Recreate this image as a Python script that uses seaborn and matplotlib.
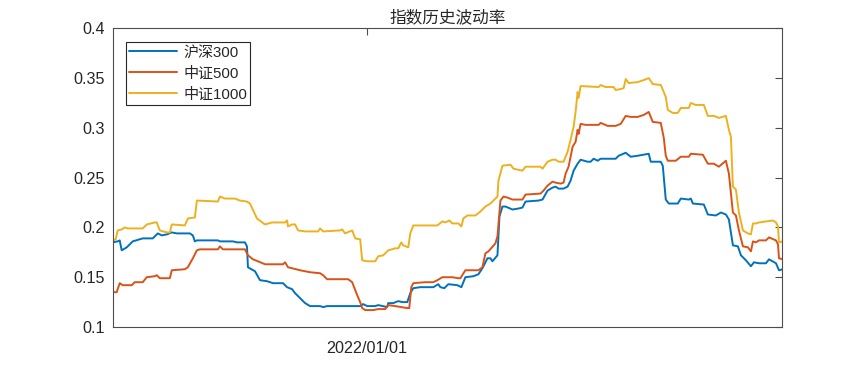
import numpy as np
import pandas as pd
import matplotlib
matplotlib.use("Agg")
import matplotlib.pyplot as plt
import seaborn as sns

# ---------------- data ----------------
START_DATE = "2021-04-22"
END_DATE = "2023-02-19"
TITLE = "指数历史波动率"
series_names = ["沪深300", "中证500", "中证1000"]
series_colors = ["#0072BD", "#D95319", "#EDB120"]
y_ticks = [0.1, 0.15, 0.2, 0.25, 0.3, 0.35, 0.4]
y_tick_labels = ["0.1", "0.15", "0.2", "0.25", "0.3", "0.35", "0.4"]
x_tick_dates = ["2022-01-01"]
x_tick_labels = ["2022/01/01"]

# days since START_DATE
hs300_days = [0, 5, 7, 9, 14, 20, 30, 40, 45, 49,
              54, 59, 64, 77, 80, 82, 84, 105, 107, 120,
              124, 132, 134, 135, 142, 147, 154, 160, 170, 174,
              179, 182, 187, 192, 197, 207, 210, 214, 240, 247,
              250, 254, 262, 265, 274, 275, 280, 285, 289, 294,
              297, 300, 307, 320, 325, 327, 331, 335, 344, 348,
              352, 360, 365, 369, 374, 377, 379, 384, 386, 389,
              392, 399, 405, 409, 412, 425, 429, 434, 439, 442,
              445, 450, 454, 457, 460, 464, 467, 474, 477, 480,
              484, 487, 502, 505, 512, 517, 524, 535, 537, 547,
              549, 552, 555, 564, 567, 575, 577, 579, 590, 594,
              602, 607, 612, 615, 619, 624, 627, 632, 637, 640,
              645, 652, 655, 662, 665, 669]
hs300_vol = [0.185, 0.186, 0.187, 0.177, 0.180, 0.186, 0.189, 0.189, 0.194, 0.192,
             0.193, 0.195, 0.194, 0.194, 0.192, 0.186, 0.187, 0.187, 0.186, 0.186,
             0.185, 0.185, 0.181, 0.160, 0.156, 0.147, 0.146, 0.144, 0.144, 0.140,
             0.138, 0.134, 0.129, 0.124, 0.121, 0.121, 0.120, 0.121, 0.121, 0.121,
             0.123, 0.121, 0.121, 0.122, 0.120, 0.124, 0.124, 0.126, 0.125, 0.125,
             0.134, 0.139, 0.140, 0.140, 0.143, 0.140, 0.139, 0.143, 0.142, 0.140,
             0.150, 0.151, 0.153, 0.159, 0.169, 0.169, 0.166, 0.172, 0.211, 0.221,
             0.221, 0.218, 0.219, 0.220, 0.226, 0.227, 0.228, 0.237, 0.240, 0.241,
             0.239, 0.239, 0.241, 0.247, 0.257, 0.264, 0.268, 0.266, 0.266, 0.269,
             0.267, 0.269, 0.269, 0.272, 0.275, 0.271, 0.272, 0.274, 0.266, 0.266,
             0.262, 0.228, 0.224, 0.224, 0.229, 0.228, 0.229, 0.224, 0.223, 0.213,
             0.212, 0.215, 0.213, 0.208, 0.182, 0.181, 0.172, 0.167, 0.161, 0.165,
             0.164, 0.164, 0.168, 0.164, 0.157, 0.158]

zz500_days = [0, 4, 7, 10, 19, 22, 30, 34, 42, 44,
              47, 57, 59, 72, 75, 80, 84, 87, 105, 107,
              110, 132, 135, 140, 145, 152, 170, 172, 175, 179,
              187, 197, 207, 210, 214, 235, 239, 244, 247, 249,
              252, 260, 265, 272, 275, 282, 294, 296, 298, 300,
              312, 320, 324, 329, 339, 345, 347, 352, 365, 369,
              372, 375, 382, 384, 387, 390, 394, 399, 409, 412,
              427, 430, 434, 439, 442, 447, 450, 452, 455, 459,
              462, 464, 465, 467, 472, 485, 487, 494, 502, 507,
              512, 517, 524, 530, 535, 539, 547, 550, 552, 554,
              562, 567, 575, 577, 589, 594, 600, 605, 612, 615,
              619, 622, 625, 629, 634, 637, 639, 642, 645, 652,
              655, 662, 664, 665, 669]
zz500_vol = [0.135, 0.135, 0.144, 0.142, 0.142, 0.145, 0.145, 0.150, 0.151, 0.152,
             0.149, 0.149, 0.157, 0.158, 0.160, 0.169, 0.177, 0.178, 0.178, 0.181,
             0.178, 0.178, 0.172, 0.168, 0.166, 0.163, 0.163, 0.165, 0.160, 0.159,
             0.157, 0.155, 0.154, 0.152, 0.148, 0.148, 0.145, 0.132, 0.125, 0.119,
             0.117, 0.117, 0.118, 0.118, 0.122, 0.121, 0.119, 0.119, 0.140, 0.144,
             0.145, 0.145, 0.147, 0.150, 0.150, 0.149, 0.149, 0.157, 0.157, 0.160,
             0.174, 0.176, 0.184, 0.191, 0.227, 0.231, 0.230, 0.228, 0.228, 0.233,
             0.234, 0.237, 0.242, 0.246, 0.245, 0.244, 0.245, 0.254, 0.261, 0.281,
             0.286, 0.298, 0.294, 0.304, 0.303, 0.303, 0.305, 0.302, 0.302, 0.304,
             0.312, 0.311, 0.311, 0.313, 0.316, 0.306, 0.305, 0.290, 0.272, 0.267,
             0.267, 0.271, 0.271, 0.274, 0.273, 0.264, 0.264, 0.261, 0.267, 0.254,
             0.215, 0.212, 0.197, 0.181, 0.180, 0.176, 0.186, 0.185, 0.187, 0.187,
             0.190, 0.187, 0.183, 0.169, 0.168]

zz1000_days = [0, 3, 5, 9, 12, 15, 30, 34, 42, 44,
               47, 54, 57, 59, 72, 75, 82, 84, 105, 107,
               112, 122, 127, 134, 137, 144, 152, 159, 172, 174,
               175, 179, 182, 185, 192, 205, 207, 210, 227, 229,
               232, 239, 242, 247, 249, 254, 262, 265, 270, 275,
               282, 285, 288, 290, 295, 297, 300, 312, 324, 329,
               332, 336, 339, 345, 348, 350, 354, 362, 367, 372,
               377, 384, 385, 389, 397, 400, 409, 412, 427, 429,
               434, 439, 442, 445, 450, 452, 454, 457, 460, 462,
               464, 465, 467, 485, 487, 492, 500, 502, 507, 510,
               512, 515, 524, 530, 535, 539, 547, 550, 552, 554,
               559, 564, 567, 575, 577, 582, 590, 594, 600, 605,
               612, 615, 617, 619, 622, 625, 629, 634, 637, 639,
               642, 645, 652, 659, 662, 664, 665, 669]
zz1000_vol = [0.187, 0.188, 0.197, 0.198, 0.200, 0.199, 0.199, 0.203, 0.205, 0.205,
              0.197, 0.195, 0.195, 0.203, 0.202, 0.209, 0.210, 0.227, 0.226, 0.231,
              0.229, 0.229, 0.227, 0.226, 0.224, 0.209, 0.203, 0.205, 0.205, 0.207,
              0.201, 0.203, 0.203, 0.197, 0.196, 0.196, 0.199, 0.196, 0.197, 0.198,
              0.194, 0.197, 0.189, 0.188, 0.167, 0.166, 0.166, 0.171, 0.172, 0.177,
              0.179, 0.179, 0.185, 0.182, 0.180, 0.194, 0.202, 0.202, 0.202, 0.206,
              0.205, 0.207, 0.204, 0.204, 0.201, 0.209, 0.212, 0.212, 0.216, 0.221,
              0.224, 0.231, 0.247, 0.262, 0.263, 0.259, 0.257, 0.261, 0.261, 0.259,
              0.266, 0.268, 0.268, 0.266, 0.266, 0.271, 0.276, 0.288, 0.301, 0.316,
              0.336, 0.330, 0.342, 0.341, 0.343, 0.341, 0.341, 0.338, 0.339, 0.340,
              0.349, 0.345, 0.346, 0.348, 0.350, 0.344, 0.343, 0.336, 0.331, 0.318,
              0.315, 0.315, 0.320, 0.320, 0.325, 0.323, 0.323, 0.312, 0.312, 0.310,
              0.312, 0.298, 0.291, 0.241, 0.238, 0.215, 0.197, 0.194, 0.193, 0.204,
              0.204, 0.205, 0.206, 0.207, 0.205, 0.201, 0.185, 0.186]

# ---------------- build table ----------------
start = pd.Timestamp(START_DATE)
frames = []
for name, days, vol in zip(series_names,
                           [hs300_days, zz500_days, zz1000_days],
                           [hs300_vol, zz500_vol, zz1000_vol]):
    frames.append(pd.DataFrame({
        "date": start + pd.to_timedelta(days, unit="D"),
        "vol": vol,
        "指数": name,
    }))
df = pd.concat(frames, ignore_index=True)

# ---------------- style ----------------
sns.set_theme(style="white")
plt.rcParams["font.family"] = ["Liberation Sans", "Noto Sans CJK SC"]
plt.rcParams["axes.unicode_minus"] = False

W, H = 865, 371
fig = plt.figure(figsize=(W / 100, H / 100), dpi=100)
ax = fig.add_axes([112.7 / W, 1 - 327 / H, 669.3 / W, 298.7 / H])

sns.lineplot(data=df, x="date", y="vol", hue="指数", hue_order=series_names,
             palette=dict(zip(series_names, series_colors)),
             estimator=None, linewidth=1.4, ax=ax)

ax.set_xlim(pd.Timestamp(START_DATE), pd.Timestamp(END_DATE))
ax.set_ylim(0.1, 0.4)
ax.set_yticks(y_ticks)
ax.set_yticklabels(y_tick_labels)
ax.set_xticks([pd.Timestamp(d) for d in x_tick_dates])
ax.set_xticklabels(x_tick_labels)
ax.set_xlabel("")
ax.set_ylabel("")

axis_color = "#262626"
for s in ax.spines.values():
    s.set_visible(True)
    s.set_color("#4d4d4d")
    s.set_linewidth(0.8)
ax.tick_params(axis="both", direction="in", length=5, width=0.8,
               top=True, right=True, colors="#4d4d4d",
               labelcolor=axis_color, labelsize=11.6)
ax.tick_params(axis="x", pad=10)
ax.tick_params(axis="y", pad=5.5)

ax.set_title(TITLE, fontsize=12, color=axis_color, pad=4,
             family=["Noto Sans CJK SC", "DejaVu Sans"])

leg = ax.legend(loc="upper left", bbox_to_anchor=(0.0199, 0.953),
                borderaxespad=0, frameon=True, fancybox=False, framealpha=1,
                edgecolor=axis_color, fontsize=10.8, handlelength=3.2,
                handletextpad=0.4, borderpad=0.22, labelspacing=0.45)
leg.get_frame().set_linewidth(0.8)
for line in leg.get_lines():
    line.set_linewidth(1.4)
for t in leg.get_texts():
    t.set_color(axis_color)

fig.savefig("out.png", dpi=100)
